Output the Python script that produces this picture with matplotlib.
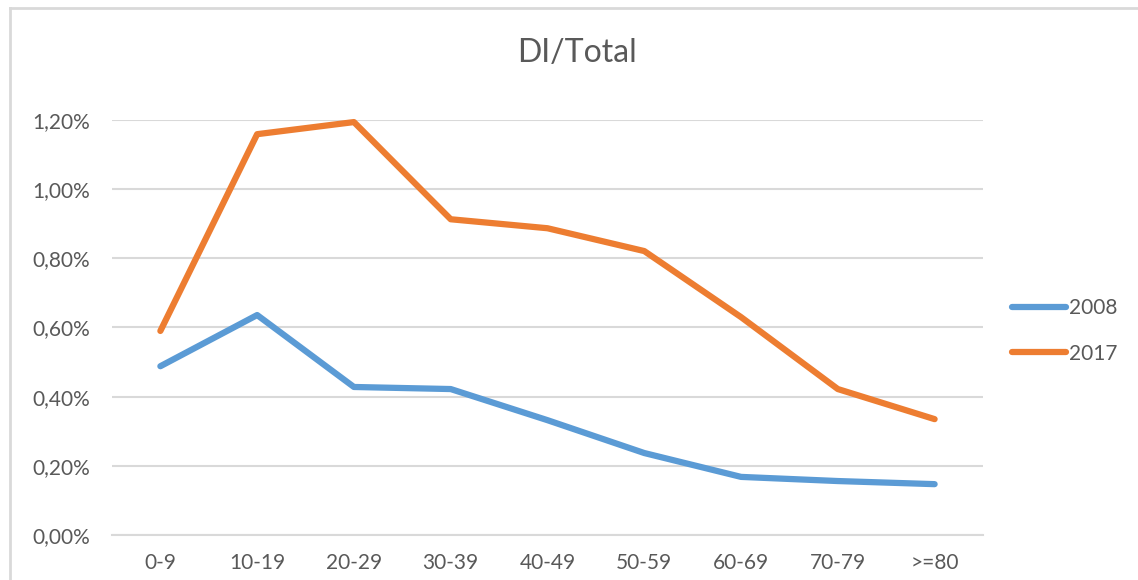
import matplotlib.pyplot as plt
from matplotlib.lines import Line2D
from matplotlib.ticker import FuncFormatter

plt.rcParams['font.family'] = ['Lato', 'DejaVu Sans']

age_groups = ['0-9', '10-19', '20-29', '30-39', '40-49', '50-59', '60-69', '70-79', '>=80']
share_2008 = [0.488, 0.636, 0.428, 0.422, 0.332, 0.237, 0.168, 0.156, 0.147]
share_2017 = [0.590, 1.159, 1.194, 0.913, 0.887, 0.821, 0.630, 0.422, 0.335]

text_col = '#595959'
grid_col = '#d9d9d9'

fig = plt.figure(figsize=(11.38, 5.8), dpi=100)
ax = fig.add_axes([0.0984, 0.0776, 0.7654, 0.7155])

x = range(len(age_groups))
ax.plot(x, share_2008, color='#5b9bd5', lw=4.5, solid_capstyle='round',
        solid_joinstyle='round', label='2008', clip_on=False, zorder=3)
ax.plot(x, share_2017, color='#ed7d31', lw=4.5, solid_capstyle='round',
        solid_joinstyle='round', label='2017', clip_on=False, zorder=3)

ax.set_xlim(-0.5, len(age_groups) - 0.5)
ax.set_ylim(0, 1.2)
ax.set_yticks([0, 0.2, 0.4, 0.6, 0.8, 1.0, 1.2])
ax.yaxis.set_major_formatter(FuncFormatter(lambda v, p: f"{v:.2f}%".replace('.', ',')))
ax.set_xticks(list(x))
ax.set_xticklabels(age_groups)

ax.grid(axis='y', color=grid_col, lw=1.5)
ax.set_axisbelow(True)
for s in ['top', 'right', 'left']:
    ax.spines[s].set_visible(False)
ax.spines['bottom'].set_color(grid_col)
ax.spines['bottom'].set_linewidth(1.5)
ax.tick_params(axis='both', length=0, labelsize=15, colors=text_col)
ax.tick_params(axis='y', pad=16)
ax.tick_params(axis='x', pad=13)

fig.text(577 / 1138, 1 - 53 / 580, 'DI/Total', ha='center', va='center',
         fontsize=23, color=text_col)

leg = ax.legend(loc='center left', bbox_to_anchor=(993 / 1138, 1 - 331 / 580),
                bbox_transform=fig.transFigure, frameon=False, fontsize=15,
                handlelength=2.6, handletextpad=0.15, labelspacing=1.2)
for t in leg.get_texts():
    t.set_color(text_col)

# outer chart frame (only top and left edges fall inside the image)
fig.add_artist(Line2D([10 / 1138, 1], [1 - 8 / 580] * 2, transform=fig.transFigure,
                      color='#d9d9d9', lw=2))
fig.add_artist(Line2D([10 / 1138] * 2, [0, 1 - 8 / 580], transform=fig.transFigure,
                      color='#d9d9d9', lw=2))

fig.savefig('out.png', dpi=100)
